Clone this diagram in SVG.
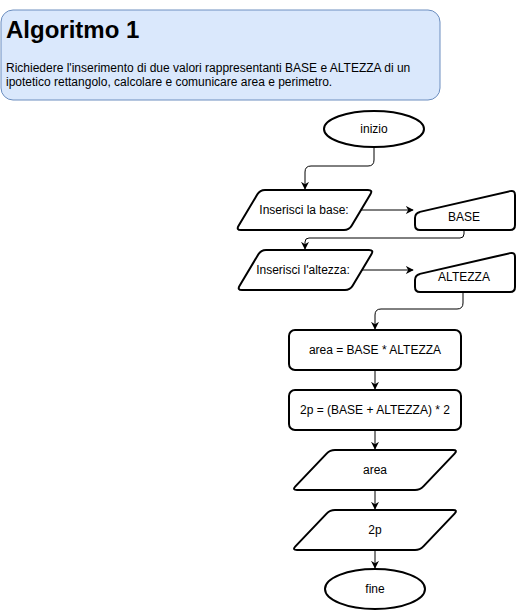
<svg xmlns="http://www.w3.org/2000/svg" width="516" height="611" viewBox="0 0 516 611">
<style>
text{font-family:"Liberation Sans",Arial,sans-serif;font-size:12px;fill:#000}
.lbl{text-anchor:middle;dominant-baseline:central}
.sh{fill:#fff;stroke:#000;stroke-width:2;stroke-linejoin:round}
.cn{fill:none;stroke:#000;stroke-width:1}
</style>
<defs>
<marker id="arr" viewBox="0 0 10 10" refX="9" refY="5" markerWidth="8" markerHeight="8" markerUnits="userSpaceOnUse" orient="auto">
<path d="M0,0 L10,5 L0,10 L3,5 Z" fill="#000"/>
</marker>
</defs>
<g id="header">
<rect x="1" y="10" width="439" height="90" rx="12" fill="#dae8fc" stroke="#6c8ebf" stroke-width="1"/>
<text x="6" y="38" style="font-size:24px;font-weight:bold">Algoritmo 1</text>
<text x="6" y="72">Richiedere l'inserimento di due valori rappresentanti BASE e ALTEZZA di un</text>
<text x="6" y="86">ipotetico rettangolo, calcolare e comunicare area e perimetro.</text>
</g>
<g id="connectors">
<path class="cn" d="M374,147 V160 Q374,166 368,166 H311 Q305,166 305,172 V189" marker-end="url(#arr)"/>
<path class="cn" d="M359,210 H413" marker-end="url(#arr)"/>
<path class="cn" d="M464,231 V234 Q464,238 460,238 H309 Q305,238 305,242 V249" marker-end="url(#arr)"/>
<path class="cn" d="M359,270 H413" marker-end="url(#arr)"/>
<path class="cn" d="M463,292 V303 Q463,309 457,309 H381 Q375,309 375,315 V329" marker-end="url(#arr)"/>
<path class="cn" d="M375,370 V389" marker-end="url(#arr)"/>
<path class="cn" d="M375,430 V449" marker-end="url(#arr)"/>
<path class="cn" d="M375,490 V509" marker-end="url(#arr)"/>
<path class="cn" d="M375,550 V568" marker-end="url(#arr)"/>
</g>
<g id="inizio">
<ellipse class="sh" cx="374" cy="129" rx="50" ry="18"/>
<text class="lbl" x="374" y="129">inizio</text>
</g>
<g id="in_base">
<path class="sh" d="M265,190 H368 Q373,190 370.4,194.3 L351.6,225.7 Q349,230 344,230 H241 Q236,230 238.6,225.7 L257.4,194.3 Q260,190 265,190 Z"/>
<text class="lbl" x="304" y="210">Inserisci la base:</text>
</g>
<g id="base">
<path class="sh" d="M419.9,211.9 L510.1,191.1 Q515,190 515,195 V225 Q515,230 510,230 H420 Q415,230 415,225 V218 Q415,213 419.9,211.9 Z"/>
<text class="lbl" x="464" y="217">BASE</text>
</g>
<g id="in_altezza">
<path class="sh" d="M266,250 H369 Q374,250 371.4,254.3 L352.6,285.7 Q350,290 345,290 H242 Q237,290 239.6,285.7 L258.4,254.3 Q261,250 266,250 Z"/>
<text class="lbl" x="303" y="270">Inserisci l'altezza:</text>
</g>
<g id="altezza">
<path class="sh" d="M419.9,273.9 L510.1,253.1 Q515,252 515,257 V287 Q515,292 510,292 H420 Q415,292 415,287 V280 Q415,275 419.9,273.9 Z"/>
<text class="lbl" x="464" y="277">ALTEZZA</text>
</g>
<g id="area_calc">
<rect class="sh" x="289" y="330" width="172" height="40" rx="6"/>
<text class="lbl" x="375" y="350">area = BASE * ALTEZZA</text>
</g>
<g id="p_calc">
<rect class="sh" x="289" y="390" width="172" height="40" rx="6"/>
<text class="lbl" x="375" y="410">2p = (BASE + ALTEZZA) * 2</text>
</g>
<g id="out_area">
<path class="sh" d="M335,450 H453 Q458,450 454.6,453.6 L423.4,486.4 Q420,490 415,490 H297 Q292,490 295.4,486.4 L326.6,453.6 Q330,450 335,450 Z"/>
<text class="lbl" x="375" y="470">area</text>
</g>
<g id="out_2p">
<path class="sh" d="M335,510 H453 Q458,510 454.6,513.6 L423.4,546.4 Q420,550 415,550 H297 Q292,550 295.4,546.4 L326.6,513.6 Q330,510 335,510 Z"/>
<text class="lbl" x="375" y="530">2p</text>
</g>
<g id="fine">
<ellipse class="sh" cx="375" cy="589" rx="50" ry="20"/>
<text class="lbl" x="375" y="589">fine</text>
</g>
</svg>
